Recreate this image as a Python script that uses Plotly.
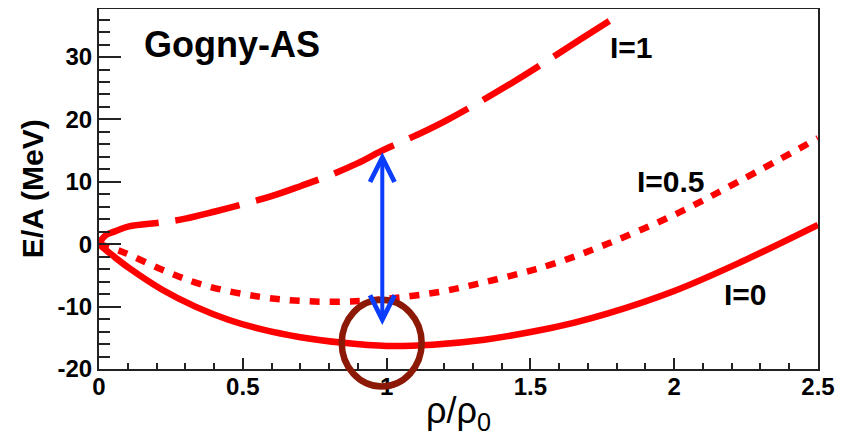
import plotly.graph_objects as go

# ---------------- data ----------------
rho_I0 = [0.0, 0.05, 0.104, 0.22, 0.335, 0.45, 0.57, 0.70, 0.85, 1.0, 1.16, 1.34, 1.51, 1.65, 1.77, 2.0, 2.23, 2.5]
E_I0 = [0.0, -1.9, -3.8, -7.3, -10.0, -12.1, -13.7, -14.9, -15.8, -16.3, -16.1, -15.3, -14.0, -12.6, -11.1, -7.5, -2.9, 3.1]

rho_I05 = [0.0, 0.08, 0.22, 0.36, 0.555, 0.73, 0.91, 1.05, 1.19, 1.33, 1.47, 1.59, 1.77, 2.0, 2.23, 2.5]
E_I05 = [0.0, -1.2, -4.1, -6.5, -8.4, -9.15, -9.1, -8.5, -7.6, -6.2, -4.6, -3.0, 0.1, 4.7, 10.2, 17.0]

rho_I1 = [0.0, 0.012, 0.025, 0.057, 0.104, 0.22, 0.3, 0.4, 0.5, 0.6, 0.7, 0.8, 0.9, 0.984, 1.1, 1.21, 1.441, 1.673, 1.806]
E_I1 = [0.0, 0.9, 1.5, 2.1, 2.85, 3.5, 4.1, 5.2, 6.4, 7.7, 9.3, 11.0, 13.0, 15.0, 17.4, 19.9, 26.0, 32.8, 36.7]

X_TICKS = [0, 0.5, 1, 1.5, 2, 2.5]
X_TICK_LABELS = ["0", "0.5", "1", "1.5", "2", "2.5"]
Y_TICKS = [-20, -10, 0, 10, 20, 30]
Y_TICK_LABELS = ["-20", "-10", "0", "10", "20", "30"]
X_RANGE = [0, 2.5]
Y_RANGE = [-20, 37.7]

X_TITLE = "ρ/ρ<sub>0</sub>"
Y_TITLE = "<b>E/A (MeV)</b>"

# curve labels: (text, rho, E, font size)
LABELS = [("Gogny-AS", 0.148, 32.0, 36), ("I=1", 1.770, 31.6, 30),
          ("I=0.5", 1.864, 10.1, 30), ("I=0", 2.166, -8.0, 30)]

# arrow between I=1 and I=0 at saturation density
ARROW_RHO = 0.985
ARROW_E_TOP = 14.75
ARROW_E_BOT = -13.2

# circle around saturation point
CIRCLE_RHO = [0.844, 1.122]
CIRCLE_E = [-22.8, -8.9]

RED = "#ff0000"
BLUE = "#0b3dff"
BROWN = "#8c1906"
AXC = "#222222"

fig = go.Figure()
fig.add_trace(go.Scatter(x=rho_I0, y=E_I0, mode="lines", line=dict(color=RED, width=6.5, shape="spline"), name="I=0"))
fig.add_trace(go.Scatter(x=rho_I05, y=E_I05, mode="lines", line=dict(color=RED, width=6.5, shape="spline", dash="10px,10px"), name="I=0.5"))
fig.add_trace(go.Scatter(x=rho_I1, y=E_I1, mode="lines", line=dict(color=RED, width=6.5, shape="spline", dash="66px,17px"), name="I=1"))

for text, xr, ye, fs in LABELS:
    fig.add_annotation(x=xr, y=ye, xref="x", yref="y", text="<b>%s</b>" % text, showarrow=False,
                       xanchor="left", yanchor="middle", font=dict(size=fs, color="black"))

fig.add_annotation(x=ARROW_RHO, y=ARROW_E_TOP, ax=ARROW_RHO, ay=ARROW_E_BOT,
                   xref="x", yref="y", axref="x", ayref="y", text="", showarrow=True,
                   arrowside="end+start", arrowhead=5, startarrowhead=5,
                   arrowsize=1.2, startarrowsize=1.2, arrowwidth=4, arrowcolor=BLUE,
                   standoff=0, startstandoff=0)

ys = Y_RANGE[1] - Y_RANGE[0]
fig.add_shape(type="circle", xref="x", yref="y domain",
              x0=CIRCLE_RHO[0], x1=CIRCLE_RHO[1],
              y0=(CIRCLE_E[0] - Y_RANGE[0]) / ys, y1=(CIRCLE_E[1] - Y_RANGE[0]) / ys,
              line=dict(color=BROWN, width=6.5), layer="above")

# axis titles as annotations for precise placement
fig.add_annotation(x=0.5, y=-0.121, xref="paper", yref="paper", text=X_TITLE, showarrow=False,
                   xanchor="center", yanchor="middle", font=dict(size=36, color="black"))
fig.add_annotation(x=-0.093, y=0.5, xref="paper", yref="paper", text=Y_TITLE, showarrow=False,
                   textangle=-90, xanchor="center", yanchor="middle", font=dict(size=30, color="black"))

# the page adds an 8px body margin, so the figure is sized to fit the window
fig.update_layout(
    width=841, height=429,
    margin=dict(l=91, r=31, t=1, b=68),
    plot_bgcolor="white", paper_bgcolor="white",
    showlegend=False,
    font=dict(family="Liberation Sans, Arial, sans-serif", color="black"),
)
fig.update_xaxes(
    range=X_RANGE, showline=True, linecolor=AXC, linewidth=2, mirror=True, automargin=False,
    ticks="inside", ticklen=11, tickwidth=1.5, tickcolor=AXC,
    tickmode="array", tickvals=X_TICKS, ticktext=X_TICK_LABELS,
    tickfont=dict(size=24, weight="bold"), ticklabelstandoff=-5,
    minor=dict(ticks="inside", ticklen=6, tickmode="linear", tick0=0, dtick=0.1, tickcolor=AXC, tickwidth=1.5, showgrid=False),
    showgrid=False, zeroline=False,
)
fig.update_yaxes(
    range=Y_RANGE, showline=True, linecolor=AXC, linewidth=2, mirror=True, automargin=False,
    ticks="inside", ticklen=22, tickwidth=1.5, tickcolor=AXC,
    tickmode="array", tickvals=Y_TICKS, ticktext=Y_TICK_LABELS,
    tickfont=dict(size=24, weight="bold"),
    minor=dict(ticks="inside", ticklen=11, tickmode="linear", tick0=0, dtick=2, tickcolor=AXC, tickwidth=1.5, showgrid=False),
    showgrid=False, zeroline=False,
)

fig.write_html("out.html")
